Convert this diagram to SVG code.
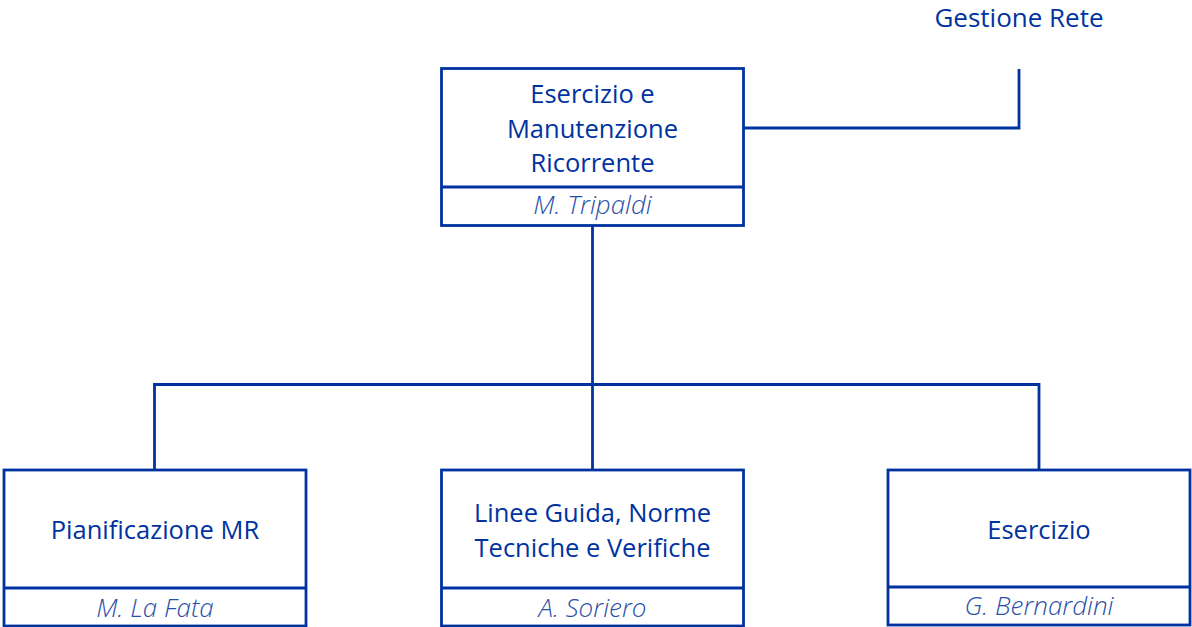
<svg xmlns="http://www.w3.org/2000/svg" width="1192" height="627" viewBox="0 0 1192 627">
<style>
.box{fill:#ffffff;stroke:#0033a0;stroke-width:2.8}
.ln{fill:none;stroke:#0033a0;stroke-width:2.8}
.t{font-family:"Open Sans","Noto Sans",sans-serif;font-size:25.5px;fill:#0033a0;text-anchor:middle}
.n{font-family:"Open Sans","Noto Sans",sans-serif;font-size:26px;font-style:italic;font-weight:300;fill:#2a4fa8;text-anchor:middle}
</style>
<rect width="1192" height="627" fill="#ffffff"/>
<g id="connectors">
<path class="ln" d="M744 128 H1019 V69"/>
<path class="ln" d="M592.5 226 V470"/>
<path class="ln" d="M154.5 470 V384.5 H1039 V470"/>
</g>
<g id="gestione-rete">
<text class="t" x="1019" y="27" style="font-size:26px">Gestione Rete</text>
</g>
<g id="esercizio-manutenzione">
<rect class="box" x="441.5" y="68.5" width="302" height="157"/>
<line class="ln" x1="441.5" y1="187" x2="743.5" y2="187"/>
<text class="t" x="592.5" y="103">Esercizio e</text>
<text class="t" x="592.5" y="138">Manutenzione</text>
<text class="t" x="592.5" y="172">Ricorrente</text>
<text class="n" x="592.5" y="214">M. Tripaldi</text>
</g>
<g id="pianificazione">
<rect class="box" x="4" y="470" width="302" height="156"/>
<line class="ln" x1="4" y1="588" x2="306" y2="588"/>
<text class="t" x="155" y="539">Pianificazione MR</text>
<text class="n" x="155" y="617">M. La Fata</text>
</g>
<g id="linee-guida">
<rect class="box" x="441.5" y="470" width="302" height="156"/>
<line class="ln" x1="441.5" y1="588" x2="743.5" y2="588"/>
<text class="t" x="592.5" y="522">Linee Guida, Norme</text>
<text class="t" x="592.5" y="557">Tecniche e Verifiche</text>
<text class="n" x="592.5" y="617">A. Soriero</text>
</g>
<g id="esercizio">
<rect class="box" x="888" y="470" width="302" height="155"/>
<line class="ln" x1="888" y1="587" x2="1190" y2="587"/>
<text class="t" x="1039" y="539">Esercizio</text>
<text class="n" x="1039" y="615">G. Bernardini</text>
</g>
</svg>
